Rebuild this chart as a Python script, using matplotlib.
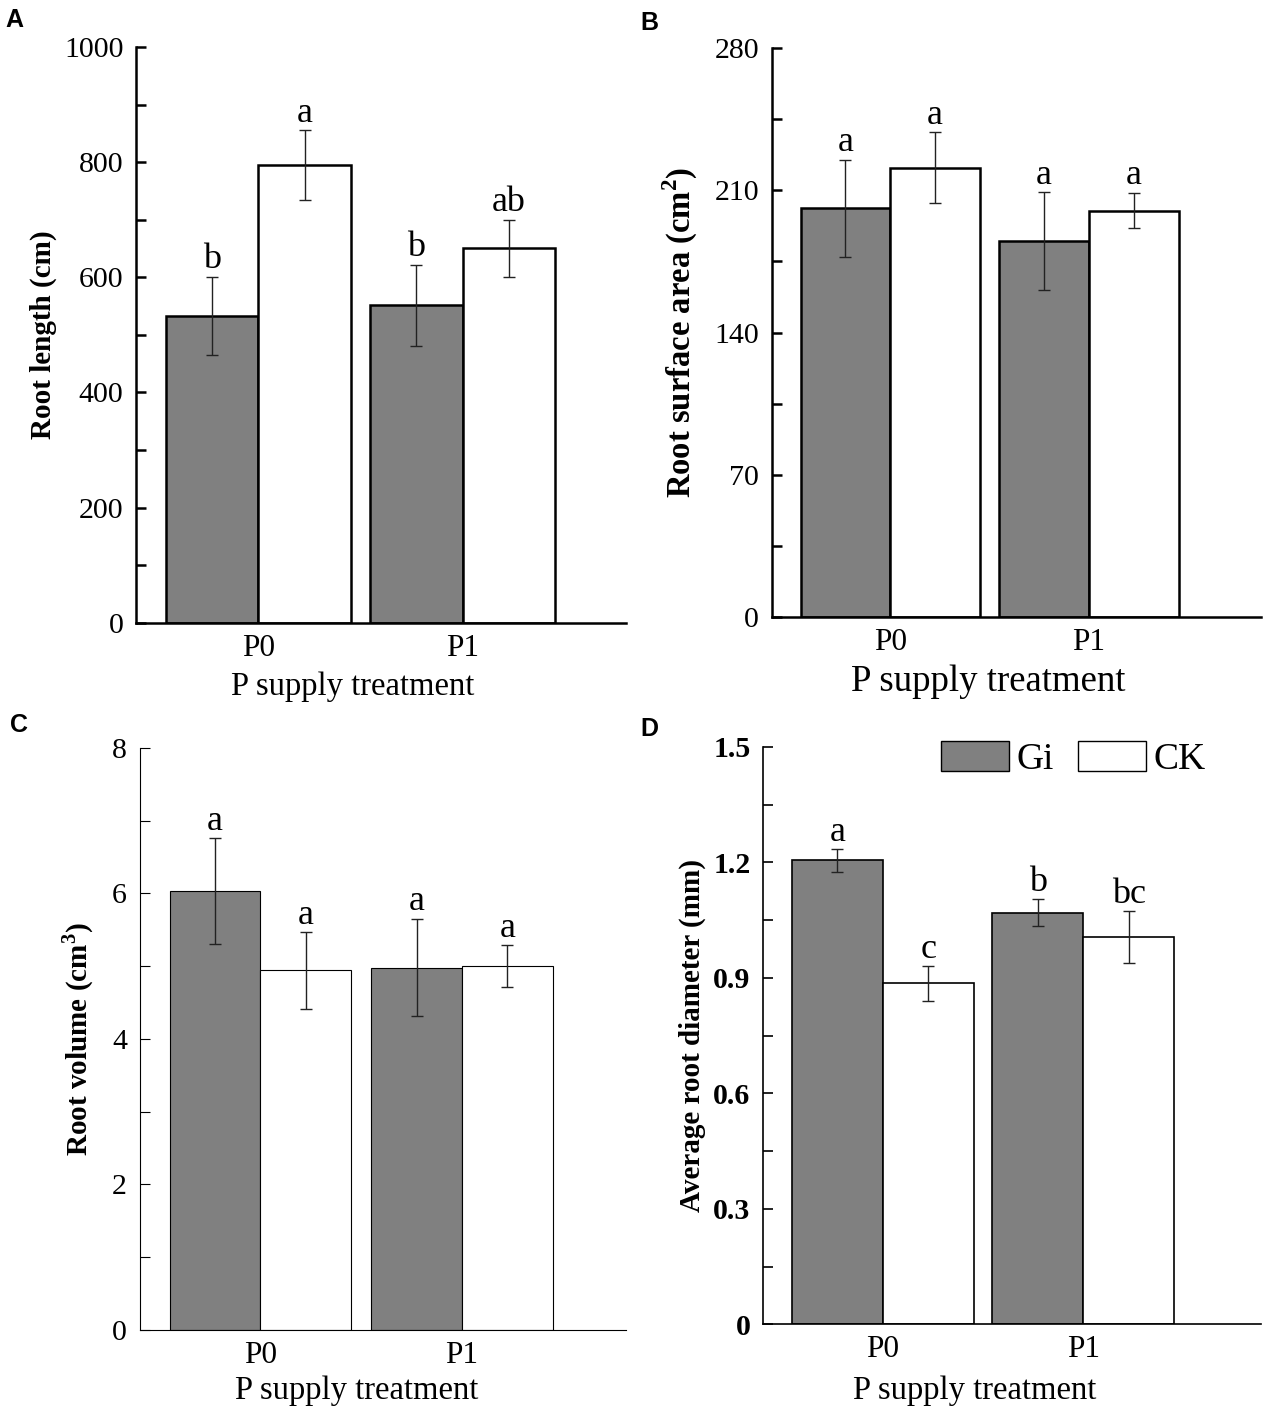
import matplotlib

matplotlib.use("Agg")
import matplotlib.pyplot as plt
import numpy as np
from matplotlib.patches import Patch

plt.rcParams["font.family"] = ["Liberation Serif", "DejaVu Serif"]
plt.rcParams["mathtext.fontset"] = "custom"
plt.rcParams["mathtext.rm"] = "Liberation Serif"
plt.rcParams["mathtext.bf"] = "Liberation Serif:bold"

treatments = ["P0", "P1"]
groups = ["Gi", "CK"]

root_length_gi = [533, 551]
root_length_gi_err = [68, 71]
root_length_ck = [795, 650]
root_length_ck_err = [60, 50]
root_length_gi_letters = ["b", "b"]
root_length_ck_letters = ["a", "ab"]

surface_gi = [201, 185]
surface_gi_err = [24, 24]
surface_ck = [221, 200]
surface_ck_err = [17.5, 8.7]
surface_gi_letters = ["a", "a"]
surface_ck_letters = ["a", "a"]

volume_gi = [6.03, 4.98]
volume_gi_err = [0.73, 0.67]
volume_ck = [4.94, 5.00]
volume_ck_err = [0.53, 0.29]
volume_gi_letters = ["a", "a"]
volume_ck_letters = ["a", "a"]

diameter_gi = [1.205, 1.069]
diameter_gi_err = [0.030, 0.035]
diameter_ck = [0.886, 1.006]
diameter_ck_err = [0.045, 0.068]
diameter_gi_letters = ["a", "b"]
diameter_ck_letters = ["c", "bc"]

GI_COLOR = "#808080"


def draw_panel(fig, rect, gi, gi_err, ck, ck_err, gi_letters, ck_letters, *,
               ylabel, yticks, ymax, minor_step, xlim, width, lw,
               xlabel_size, tick_bold=False, xlabel_pos=(0.44, -0.09),
               ylabel_x=-0.15, label_size=21, letter_size=26):
    ax = fig.add_axes(rect)
    x = np.arange(len(treatments))
    ax.bar(x - width / 2, gi, width, color=GI_COLOR, edgecolor="black",
           linewidth=lw, label=groups[0], zorder=2)
    ax.bar(x + width / 2, ck, width, color="white", edgecolor="black",
           linewidth=lw, label=groups[1], zorder=2)
    ax.errorbar(x - width / 2, gi, yerr=gi_err, fmt="none", ecolor="#222222",
                elinewidth=1.0, capsize=4.5, capthick=1.0, zorder=3)
    ax.errorbar(x + width / 2, ck, yerr=ck_err, fmt="none", ecolor="#222222",
                elinewidth=1.0, capsize=4.5, capthick=1.0, zorder=3)

    for xs, vals, errs, letters in [
        (x - width / 2, gi, gi_err, gi_letters),
        (x + width / 2, ck, ck_err, ck_letters),
    ]:
        for xi, v, e, t in zip(xs, vals, errs, letters):
            ax.annotate(t, (xi, v + e), xytext=(0, 6), textcoords="offset points",
                        ha="center", va="baseline", fontsize=letter_size)

    ax.set_xlim(*xlim)
    ax.set_ylim(0, ymax)
    ax.set_xticks(x, labels=treatments)
    ax.set_yticks(yticks)
    ax.set_yticks(np.arange(minor_step, ymax, minor_step * 2), minor=True)
    ax.tick_params(axis="x", length=0, labelsize=22.5, pad=8)
    ax.tick_params(axis="y", which="both", direction="in", length=7, width=lw,
                   labelsize=21.5, pad=9)
    if tick_bold:
        for lab in ax.get_yticklabels():
            lab.set_fontweight("bold")
    for side in ["top", "right"]:
        ax.spines[side].set_visible(False)
    for side in ["left", "bottom"]:
        ax.spines[side].set_linewidth(lw)

    ax.set_xlabel("P supply treatment", fontsize=xlabel_size)
    ax.xaxis.set_label_coords(*xlabel_pos)
    ax.set_ylabel(ylabel, fontsize=label_size, fontweight="bold")
    ax.yaxis.set_label_coords(ylabel_x, 0.5)
    return ax


fig = plt.figure(figsize=(12.69, 14.14), dpi=100)

draw_panel(fig, [0.1072, 0.5596, 0.3859, 0.4072],
           root_length_gi, root_length_gi_err, root_length_ck, root_length_ck_err,
           root_length_gi_letters, root_length_ck_letters,
           ylabel="Root length (cm)", yticks=[0, 200, 400, 600, 800, 1000],
           ymax=1000, minor_step=100, xlim=(-0.600, 1.800), width=0.454,
           lw=1.8, xlabel_size=23.5, xlabel_pos=(0.443, -0.085),
           ylabel_x=-0.162)

draw_panel(fig, [0.6080, 0.5634, 0.3857, 0.4028],
           surface_gi, surface_gi_err, surface_ck, surface_ck_err,
           surface_gi_letters, surface_ck_letters,
           ylabel="Root surface area (cm$^{\\mathbf{2}}$)",
           yticks=[0, 70, 140, 210, 280], ymax=280, minor_step=35,
           xlim=(-0.598, 1.867), width=0.452, lw=1.8, xlabel_size=26.5,
           xlabel_pos=(0.442, -0.082), ylabel_x=-0.146, label_size=23.5)

draw_panel(fig, [0.1100, 0.0595, 0.3831, 0.4116],
           volume_gi, volume_gi_err, volume_ck, volume_ck_err,
           volume_gi_letters, volume_ck_letters,
           ylabel="Root volume (cm$^{\\mathbf{3}}$)", yticks=[0, 2, 4, 6, 8],
           ymax=8, minor_step=1, xlim=(-0.599, 1.812), width=0.449,
           lw=0.8, xlabel_size=23.5, xlabel_pos=(0.447, -0.078),
           ylabel_x=-0.090)

ax_d = draw_panel(fig, [0.6013, 0.0634, 0.3924, 0.4084],
                  diameter_gi, diameter_gi_err, diameter_ck, diameter_ck_err,
                  diameter_gi_letters, diameter_ck_letters,
                  ylabel="Average root diameter (mm)",
                  yticks=[0, 0.3, 0.6, 0.9, 1.2, 1.5], ymax=1.5,
                  minor_step=0.15, xlim=(-0.597, 1.887), width=0.454,
                  lw=1.2, xlabel_size=23.5, tick_bold=True,
                  xlabel_pos=(0.426, -0.088), ylabel_x=-0.115)
ax_d.set_yticklabels(["0", "0.3", "0.6", "0.9", "1.2", "1.5"], fontweight="bold")

handles = [Patch(facecolor=GI_COLOR, edgecolor="black", linewidth=1.0),
           Patch(facecolor="white", edgecolor="black", linewidth=1.0)]
ax_d.legend(handles, groups, loc="upper left", bbox_to_anchor=(0.358, 1.01),
            ncol=2, frameon=False, fontsize=27, handlelength=1.8,
            handleheight=0.85, handletextpad=0.2, columnspacing=0.65,
            borderaxespad=0, borderpad=0)

for label, (px, py) in zip("ABCD", [(5, 8), (640, 11), (10, 713), (640, 717)]):
    fig.text(px / 1269, 1 - py / 1414, label, fontsize=18, fontweight="bold",
             family=["Liberation Sans", "DejaVu Sans"], ha="left", va="top")

fig.savefig("out.png", dpi=100)
